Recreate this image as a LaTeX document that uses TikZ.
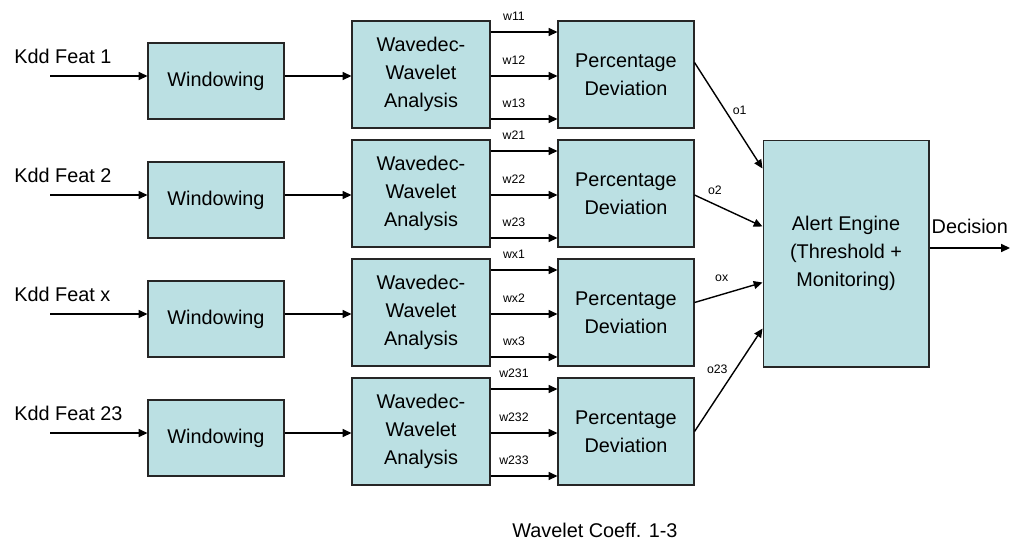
\documentclass[tikz,border=0pt]{standalone}
\usepackage{fontspec}
\setmainfont{Liberation Sans}
\usetikzlibrary{positioning,calc,arrows.meta}
\definecolor{boxfill}{RGB}{187,224,227}
\tikzset{
  blk/.style={draw=black!85,line width=0.6pt,fill=boxfill,align=center,inner sep=2pt,font=\fontsize{11.3}{15.9}\selectfont},
  arr/.style={line width=0.8pt,-{Triangle[length=5pt,width=4.5pt]}},
  wlab/.style={font=\fontsize{7}{8}\selectfont,inner sep=1pt},
  big/.style={font=\fontsize{11.3}{14}\selectfont,inner sep=0pt}
}

\begin{document}
\begin{tikzpicture}[x=0.02cm,y=-0.02cm]
\useasboundingbox (0,0) rectangle (1013,542);
% one row per feature
\foreach \k [count=\r] in {1,2,x,23} {
  \pgfmathsetmacro\dy{119*(\r-1)}
  \node[big,anchor=base west] (feat\r) at (14,63+\dy) {Kdd Feat \k};
  \coordinate (in\r) at (50,76+\dy);
  \node[blk,minimum width=2.72cm,minimum height=1.52cm] (win\r) at (216,81+\dy) {Windowing};
  \node[blk,minimum width=2.76cm,minimum height=2.14cm] (wave\r) at (421,74.5+\dy) {Wavedec-\\Wavelet\\Analysis};
  \node[blk,minimum width=2.72cm,minimum height=2.14cm] (pd\r) at (626,74.5+\dy) {Percentage\\Deviation};
  \draw[arr] (in\r) -- (in\r -| win\r.west);
  \draw[arr] (win\r.east |- in\r) -- (wave\r.west |- in\r);
  \draw[arr] ($(wave\r.east)+(0,-42.5)$) -- node[wlab,pos=0.35,above=5pt]{w\k1} ($(pd\r.west)+(0,-42.5)$);
  \draw[arr] ($(wave\r.east)+(0,1.5)$) -- node[wlab,pos=0.35,above=5pt]{w\k2} ($(pd\r.west)+(0,1.5)$);
  \draw[arr] ($(wave\r.east)+(0,44.5)$) -- node[wlab,pos=0.35,above=5pt]{w\k3} ($(pd\r.west)+(0,44.5)$);
}
\node[blk,minimum width=3.32cm,minimum height=4.54cm] (alert) at (846,253.5) {Alert Engine\\(Threshold +\\Monitoring)};
\draw[arr] ($(pd1.east)+(0,-12)$) -- node[wlab,pos=0.45,right=3pt]{o1} ($(alert.west)+(0,-85)$);
\draw[arr] ($(pd2.east)+(0,1.5)$) -- node[wlab,pos=0.3,above=4pt]{o2} ($(alert.west)+(0,-27)$);
\draw[arr] ($(pd3.east)+(0,-10)$) -- node[wlab,pos=0.4,above=6pt]{ox} ($(alert.west)+(0,29)$);
\draw[arr] (pd4.east) -- node[wlab,pos=0.6,left=3pt]{o23} ($(alert.west)+(0,75)$);
\coordinate (out) at (1010,248);
\draw[arr] (alert.east |- out) -- node[big,midway,anchor=base,yshift=8.5pt]{Decision} (out);
\node[big,anchor=base west] (coeff) at (512,537) {Wavelet Coeff. 1-3};
\end{tikzpicture}
\end{document}
